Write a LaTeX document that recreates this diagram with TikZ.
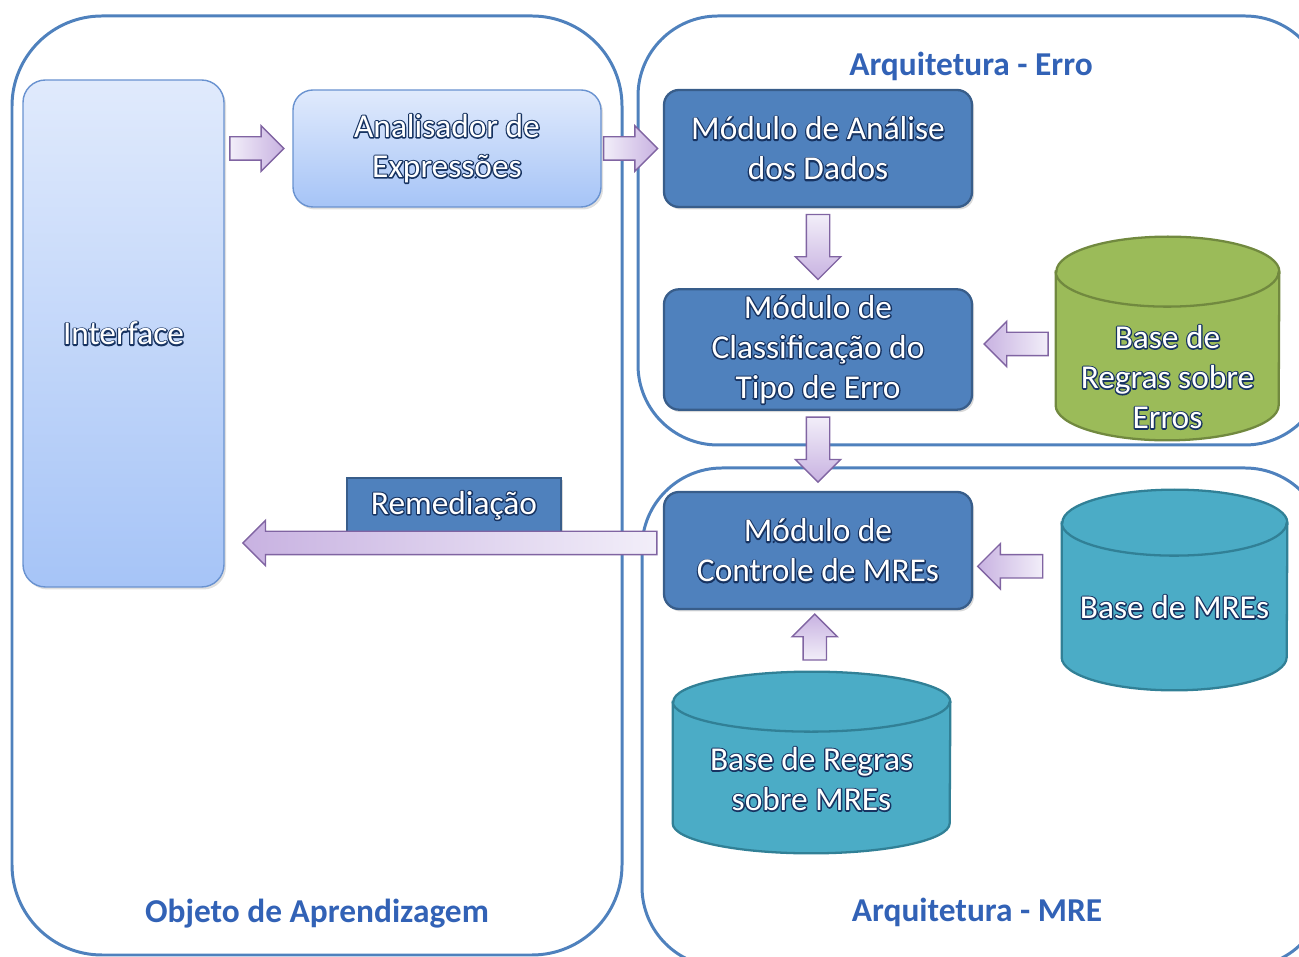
\documentclass[tikz,border=0pt]{standalone}
\usepackage{fontspec}
\setmainfont{Carlito}
\usetikzlibrary{shapes.arrows,shadows}
\definecolor{frameblue}{RGB}{79,129,189}
\definecolor{moddark}{RGB}{56,93,138}
\definecolor{lightA}{RGB}{224,234,252}
\definecolor{lightB}{RGB}{166,196,247}
\definecolor{lightedge}{RGB}{105,146,208}
\definecolor{grass}{RGB}{155,187,89}
\definecolor{grassedge}{RGB}{113,137,63}
\definecolor{aqua}{RGB}{75,172,198}
\definecolor{aquaedge}{RGB}{49,128,150}
\definecolor{lilacA}{RGB}{242,238,249}
\definecolor{lilacB}{RGB}{200,178,225}
\definecolor{lilacedge}{RGB}{128,100,162}
\definecolor{titleblue}{RGB}{50,98,182}
% white letters with a dark blue outline (outline stroked first, white on top)
\newcommand{\ct}[1]{\rlap{\special{pdf:literal direct q 1 Tr 1.5 w 1 J 1 j 0.09 0.2 0.38 RG}#1\special{pdf:literal direct 0 Tr Q}}#1}
% cylinder round a named node: name, x radius, y radius, fill, edge
\newcommand{\drawbase}[5]{%
\filldraw[fill=#4, draw=#5, line width=1.3pt] ([yshift=-#3]#1.north west) -- ([yshift=#3]#1.south west) arc[start angle=180, end angle=360, x radius=#2, y radius=#3] -- ([yshift=-#3]#1.north east) arc[start angle=0, end angle=180, x radius=#2, y radius=#3] -- cycle;
\draw[draw=#5, line width=1.3pt] ([yshift=-#3]#1.north west) arc[start angle=180, end angle=360, x radius=#2, y radius=#3];}

\begin{document}
\begin{tikzpicture}[font=\fontsize{19}{22.8}\selectfont,
frame/.style={draw=frameblue, line width=1.7pt},
module/.style={draw=moddark, line width=1.3pt, fill=frameblue, rounded corners=0.3cm, minimum width=6.16cm, minimum height=2.34cm, align=center, text=white, drop shadow={opacity=0.3, shadow xshift=0.04cm, shadow yshift=-0.05cm}},
lightbox/.style={draw=lightedge, line width=0.8pt, top color=lightA, bottom color=lightB, rounded corners=0.4cm, align=center, text=white, drop shadow={opacity=0.25, shadow xshift=0.04cm, shadow yshift=-0.05cm}},
dbbox/.style={inner sep=0pt},
basetext/.style={align=center, text=white},
fatarrow/.style={single arrow, draw=lilacedge, line width=0.8pt, text height=0.44cm, text depth=0pt, text width=0.44cm, single arrow head extend=0.22cm, single arrow head indent=0pt, inner sep=0pt},
arrowR/.style={fatarrow, xshift=-0.15cm, left color=lilacA, right color=lilacB},
arrowL/.style={fatarrow, xshift=0.15cm, shape border rotate=180, left color=lilacB, right color=lilacA},
arrowD/.style={fatarrow, yshift=0.14cm, shape border rotate=270, top color=lilacA, bottom color=lilacB},
arrowU/.style={fatarrow, yshift=-0.04cm, shape border rotate=90, top color=lilacB, bottom color=lilacA},
title/.style={font=\bfseries\fontsize{19}{22}\selectfont, text=titleblue}]
\useasboundingbox (0,0) rectangle (25.98,19.14);
% the three frames
\begin{scope}
\clip (0,0) rectangle (25.98,19.14);
\draw[frame, rounded corners=1.8cm] (0.24,0.04) rectangle (12.44,18.82);
\draw[frame, rounded corners=1.6cm] (12.76,10.24) rectangle (26.5,18.82);
\draw[frame, rounded corners=1.6cm] (12.84,-0.2) rectangle (26.5,9.78);
\end{scope}
\node[title] (terro) at (19.42,17.82) {Arquitetura - Erro};\node[title] (tmre) at (19.54,0.9) {Arquitetura - MRE};\node[title] (tobj) at (6.34,0.86) {Objeto de Aprendizagem};
% boxes
\node[lightbox, minimum width=4.02cm, minimum height=10.14cm, rounded corners=0.45cm] (interface) at (2.47,12.47) {\ct{Interface}};
\node[lightbox, minimum width=6.16cm, minimum height=2.34cm] (analisador) at (8.94,16.17) {\ct{Analisador de}\\\ct{Expressões}};
\node[module] (analise) at (16.36,16.17) {\ct{Módulo de Análise}\\\ct{dos Dados}};
\node[module] (classif) at (16.36,12.15) {\ct{Módulo de}\\\ct{Classificação do}\\\ct{Tipo de Erro}};
\node[module] (controle) at (16.36,8.13) {\ct{Módulo de}\\\ct{Controle de MREs}};
\node[module, rounded corners=0pt, minimum width=4.28cm, minimum height=1.1cm] (remed) at (9.08,9.03) {\ct{Remediação}};
% bases
\node[dbbox, minimum width=4.46cm, minimum height=4.06cm] (erros) at (23.35,12.37) {};\drawbase{erros}{2.23cm}{0.7cm}{grass}{grassedge};\node[basetext] at ([yshift=-0.77cm]erros.center) {\ct{Base de}\\\ct{Regras sobre}\\\ct{Erros}};
\node[dbbox, minimum width=4.5cm, minimum height=4.0cm] (mres) at (23.49,7.34) {};\drawbase{mres}{2.25cm}{0.66cm}{aqua}{aquaedge};\node[basetext] at ([yshift=-0.34cm]mres.center) {\ct{Base de MREs}};
\node[dbbox, minimum width=5.54cm, minimum height=3.62cm] (regras) at (16.23,3.89) {};\drawbase{regras}{2.77cm}{0.6cm}{aqua}{aquaedge};\node[basetext] at ([yshift=-0.33cm]regras.center) {\ct{Base de Regras}\\\ct{sobre MREs}};
% arrows
\path (analisador.west -| interface.east) -- (analisador.west) node[arrowR, midway, minimum height=1.08cm] {};
\path (analisador) -- (analise) node[arrowR, midway, minimum height=1.08cm] {};
\path (analise) -- (classif) node[arrowD, midway, minimum height=1.3cm] {};\path (classif) -- (controle) node[arrowD, midway, minimum height=1.3cm] {};
\path (erros.west) -- (classif.east) node[arrowL, midway, minimum height=1.28cm] {};\path (mres.west) -- (controle.east) node[arrowL, pos=0.6, minimum height=1.3cm] {};
\path (regras.north) -- (controle.south) node[arrowU, midway, minimum height=0.92cm] {};
\path ([yshift=0.15cm]controle.west) -- ([yshift=0.15cm]controle.west -| interface.east) node[arrowL, pos=0.49, minimum height=8.28cm] {};
\end{tikzpicture}
\end{document}
